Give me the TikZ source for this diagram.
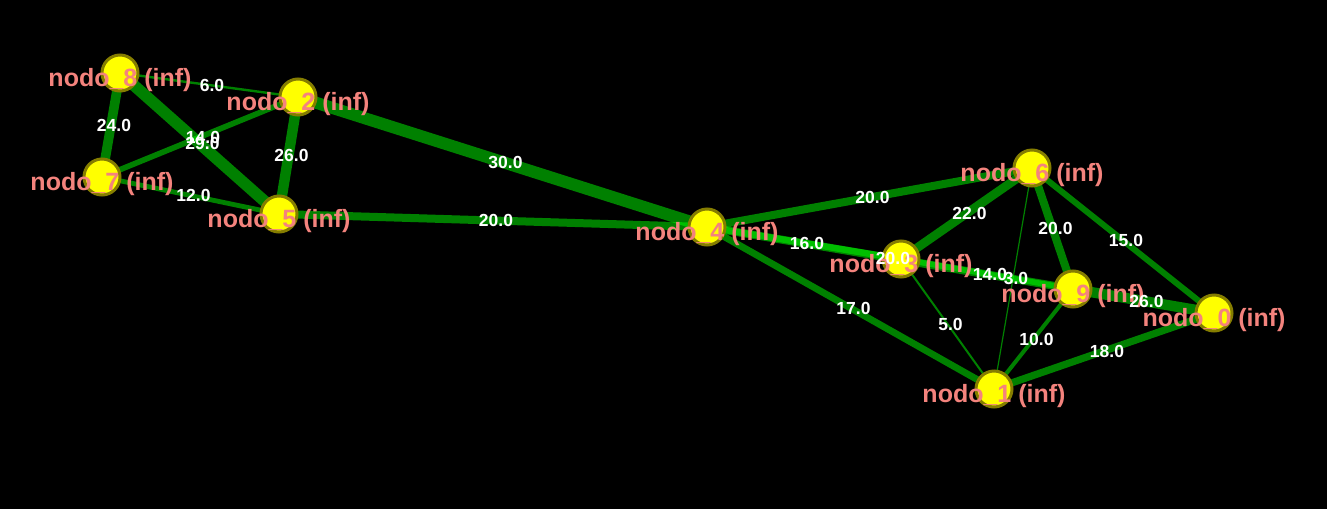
\documentclass[tikz,border=0pt]{standalone}
\usepackage{fontspec}
\setmainfont{Liberation Sans}
\definecolor{linkgreen}{HTML}{00FF00}
\definecolor{nodeyellow}{HTML}{FFFF00}
\definecolor{nodeborder}{HTML}{857D00}
\definecolor{labelpink}{HTML}{F4837D}
\tikzset{
  vert/.style={circle, fill=nodeyellow, draw=nodeborder, line width=3pt, minimum size=36pt, inner sep=0pt},
  vlabel/.style={text=labelpink, font=\fontsize{25}{30}\selectfont\bfseries, inner sep=0pt, yshift=-7pt},
  elabel/.style={text=white, font=\fontsize{17.5}{20}\selectfont\bfseries, inner sep=0pt, xshift=3pt},
  link/.style={draw=linkgreen, draw opacity=0.5, line width=#1},
}
\begin{document}
\begin{tikzpicture}[x=1pt,y=-1pt]
\fill[black] (0,0) rectangle (1327,509);
\useasboundingbox (0,0) rectangle (1327,509);
% positions
\coordinate (p0) at (1214,313);
\coordinate (p1) at (994,389);
\coordinate (p2) at (298,97);
\coordinate (p3) at (901,259);
\coordinate (p4) at (707,227);
\coordinate (p5) at (279,214);
\coordinate (p6) at (1032,168);
\coordinate (p7) at (102,177);
\coordinate (p8) at (120,73);
\coordinate (p9) at (1073,289);
% edges
\draw[link=2.4pt] (p8) -- (p2);
\draw[link=9.6pt] (p8) -- (p7);
\draw[link=11.6pt] (p8) -- (p5);
\draw[link=5.6pt] (p7) -- (p2);
\draw[link=4.8pt] (p7) -- (p5);
\draw[link=10.4pt] (p2) -- (p5);
\draw[link=12pt] (p2) -- (p4);
\draw[link=8pt] (p5) -- (p4);
\draw[link=8pt] (p4) -- (p6);
\draw[link=6.4pt] (p4) -- (p3);
\draw[link=8pt] (p4) -- (p9);
\draw[link=6.8pt] (p4) -- (p1);
\draw[link=8.8pt] (p6) -- (p3);
\draw[link=8pt] (p6) -- (p9);
\draw[link=6pt] (p6) -- (p0);
\draw[link=1.2pt] (p6) -- (p1);
\draw[link=5.6pt] (p3) -- (p9);
\draw[link=2pt] (p3) -- (p1);
\draw[link=10.4pt] (p9) -- (p0);
\draw[link=4pt] (p9) -- (p1);
\draw[link=7.2pt] (p1) -- (p0);
% nodes
\foreach \i in {0,...,9} {\node[vert] (n\i) at (p\i) {};}
% node labels
\foreach \i in {0,...,9} {\node[vlabel] (l\i) at (p\i) {nodo\_\i\ (inf)};}
% edge labels
\path (p8) -- (p2) node[midway, elabel] {6.0};
\path (p8) -- (p7) node[midway, elabel] {24.0};
\path (p8) -- (p5) node[midway, elabel] {29.0};
\path (p7) -- (p2) node[midway, elabel] {14.0};
\path (p7) -- (p5) node[midway, elabel] {12.0};
\path (p2) -- (p5) node[midway, elabel] {26.0};
\path (p2) -- (p4) node[midway, elabel] {30.0};
\path (p5) -- (p4) node[midway, elabel] {20.0};
\path (p4) -- (p6) node[midway, elabel] {20.0};
\path (p4) -- (p3) node[midway, elabel] {16.0};
\path (p4) -- (p9) node[midway, elabel] {20.0};
\path (p4) -- (p1) node[midway, elabel] {17.0};
\path (p6) -- (p3) node[midway, elabel] {22.0};
\path (p6) -- (p9) node[midway, elabel] {20.0};
\path (p6) -- (p0) node[midway, elabel] {15.0};
\path (p6) -- (p1) node[midway, elabel] {3.0};
\path (p3) -- (p9) node[midway, elabel] {14.0};
\path (p3) -- (p1) node[midway, elabel] {5.0};
\path (p9) -- (p0) node[midway, elabel] {26.0};
\path (p9) -- (p1) node[midway, elabel] {10.0};
\path (p1) -- (p0) node[midway, elabel] {18.0};
\end{tikzpicture}
\end{document}
